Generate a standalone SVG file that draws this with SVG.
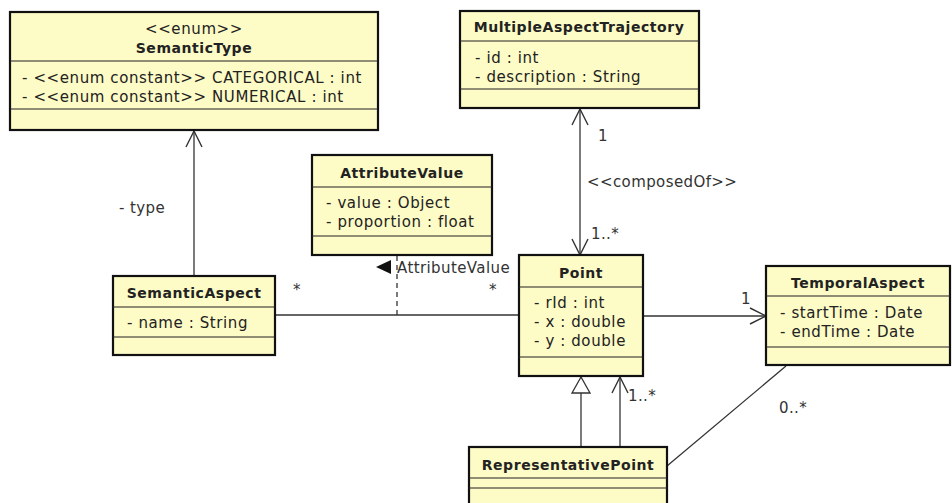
<svg xmlns="http://www.w3.org/2000/svg" width="952" height="503" viewBox="0 0 952 503">
<style>
.box{fill:#fdfbc6;stroke:#111;stroke-width:2.2}
.div{stroke:#222;stroke-width:1.2}
.t{font-family:"DejaVu Sans",sans-serif;font-size:15px;letter-spacing:0.6px;fill:#222}
.b{font-weight:bold;font-size:14px;letter-spacing:0.55px;text-anchor:middle}
.c{text-anchor:middle}
.ln{stroke:#333;stroke-width:1.3;fill:none}
.lb{font-family:"DejaVu Sans",sans-serif;font-size:15px;letter-spacing:0.4px;fill:#333}
</style>
<defs>
<marker id="open" viewBox="0 0 20 20" refX="18" refY="10" markerWidth="20" markerHeight="20" markerUnits="userSpaceOnUse" orient="auto">
<path d="M2,2 L18,10 L2,18" fill="none" stroke="#333" stroke-width="1.4"/>
</marker>
<marker id="gen" viewBox="0 0 20 20" refX="19" refY="10" markerWidth="20" markerHeight="20" markerUnits="userSpaceOnUse" orient="auto">
<path d="M3,1 L19,10 L3,19 Z" fill="#fff" stroke="#333" stroke-width="1.3"/>
</marker>
</defs>
<g id="connectors">
<line class="ln" x1="194" y1="276" x2="194" y2="131" marker-end="url(#open)"/>
<line class="ln" x1="275" y1="315" x2="519" y2="315"/>
<line class="ln" x1="397" y1="256" x2="397" y2="318" stroke-dasharray="5,4"/>
<line class="ln" x1="580" y1="182" x2="580" y2="109" marker-end="url(#open)"/>
<line class="ln" x1="580" y1="182" x2="580" y2="255" marker-end="url(#open)"/>
<line class="ln" x1="643" y1="316" x2="766" y2="316" marker-end="url(#open)"/>
<line class="ln" x1="581" y1="447" x2="581" y2="377" marker-end="url(#gen)"/>
<line class="ln" x1="620" y1="447" x2="620" y2="377" marker-end="url(#open)"/>
<line class="ln" x1="667" y1="466" x2="786" y2="366"/>
<text class="lb" x="119" y="213">- type</text>
<path d="M376,267 L391,260 L391,274 Z" fill="#111"/>
<text class="lb" x="397" y="273">AttributeValue</text>
<text class="lb" x="293" y="295">*</text>
<text class="lb" x="489" y="295">*</text>
<text class="lb" x="598" y="141">1</text>
<text class="lb" x="587" y="187">&lt;&lt;composedOf&gt;&gt;</text>
<text class="lb" x="591" y="239">1..*</text>
<text class="lb" x="741" y="304">1</text>
<text class="lb" x="628" y="401">1..*</text>
<text class="lb" x="779" y="413">0..*</text>
</g>
<g id="SemanticType">
<rect class="box" x="10" y="12" width="368" height="118"/>
<line class="div" x1="10" y1="61" x2="378" y2="61"/>
<line class="div" x1="10" y1="109" x2="378" y2="109"/>
<text class="t c" x="194" y="34">&lt;&lt;enum&gt;&gt;</text>
<text class="t b" x="194" y="53">SemanticType</text>
<text class="t" x="22" y="83">- &lt;&lt;enum constant&gt;&gt; CATEGORICAL : int</text>
<text class="t" x="22" y="102">- &lt;&lt;enum constant&gt;&gt; NUMERICAL : int</text>
</g>
<g id="MultipleAspectTrajectory">
<rect class="box" x="460" y="11" width="239" height="97"/>
<line class="div" x1="460" y1="41" x2="699" y2="41"/>
<line class="div" x1="460" y1="89" x2="699" y2="89"/>
<text class="t b" x="579" y="32">MultipleAspectTrajectory</text>
<text class="t" x="475" y="63">- id : int</text>
<text class="t" x="475" y="82">- description : String</text>
</g>
<g id="AttributeValue">
<rect class="box" x="312" y="155" width="180" height="100"/>
<line class="div" x1="312" y1="187" x2="492" y2="187"/>
<line class="div" x1="312" y1="236" x2="492" y2="236"/>
<text class="t b" x="402" y="178">AttributeValue</text>
<text class="t" x="326" y="208">- value : Object</text>
<text class="t" x="326" y="227">- proportion : float</text>
</g>
<g id="SemanticAspect">
<rect class="box" x="113" y="276" width="162" height="79"/>
<line class="div" x1="113" y1="307" x2="275" y2="307"/>
<line class="div" x1="113" y1="337" x2="275" y2="337"/>
<text class="t b" x="194" y="298">SemanticAspect</text>
<text class="t" x="127" y="328">- name : String</text>
</g>
<g id="Point">
<rect class="box" x="519" y="255" width="124" height="121"/>
<line class="div" x1="519" y1="287" x2="643" y2="287"/>
<line class="div" x1="519" y1="357" x2="643" y2="357"/>
<text class="t b" x="581" y="278">Point</text>
<text class="t" x="534" y="308">- rId : int</text>
<text class="t" x="534" y="327">- x : double</text>
<text class="t" x="534" y="346">- y : double</text>
</g>
<g id="TemporalAspect">
<rect class="box" x="766" y="266" width="184" height="99"/>
<line class="div" x1="766" y1="296" x2="950" y2="296"/>
<line class="div" x1="766" y1="347" x2="950" y2="347"/>
<text class="t b" x="858" y="288">TemporalAspect</text>
<text class="t" x="780" y="318">- startTime : Date</text>
<text class="t" x="780" y="337">- endTime : Date</text>
</g>
<g id="RepresentativePoint">
<rect class="box" x="469" y="447" width="198" height="60"/>
<line class="div" x1="469" y1="478" x2="667" y2="478"/>
<line class="div" x1="469" y1="488" x2="667" y2="488"/>
<text class="t b" x="568" y="470">RepresentativePoint</text>
</g>
</svg>
